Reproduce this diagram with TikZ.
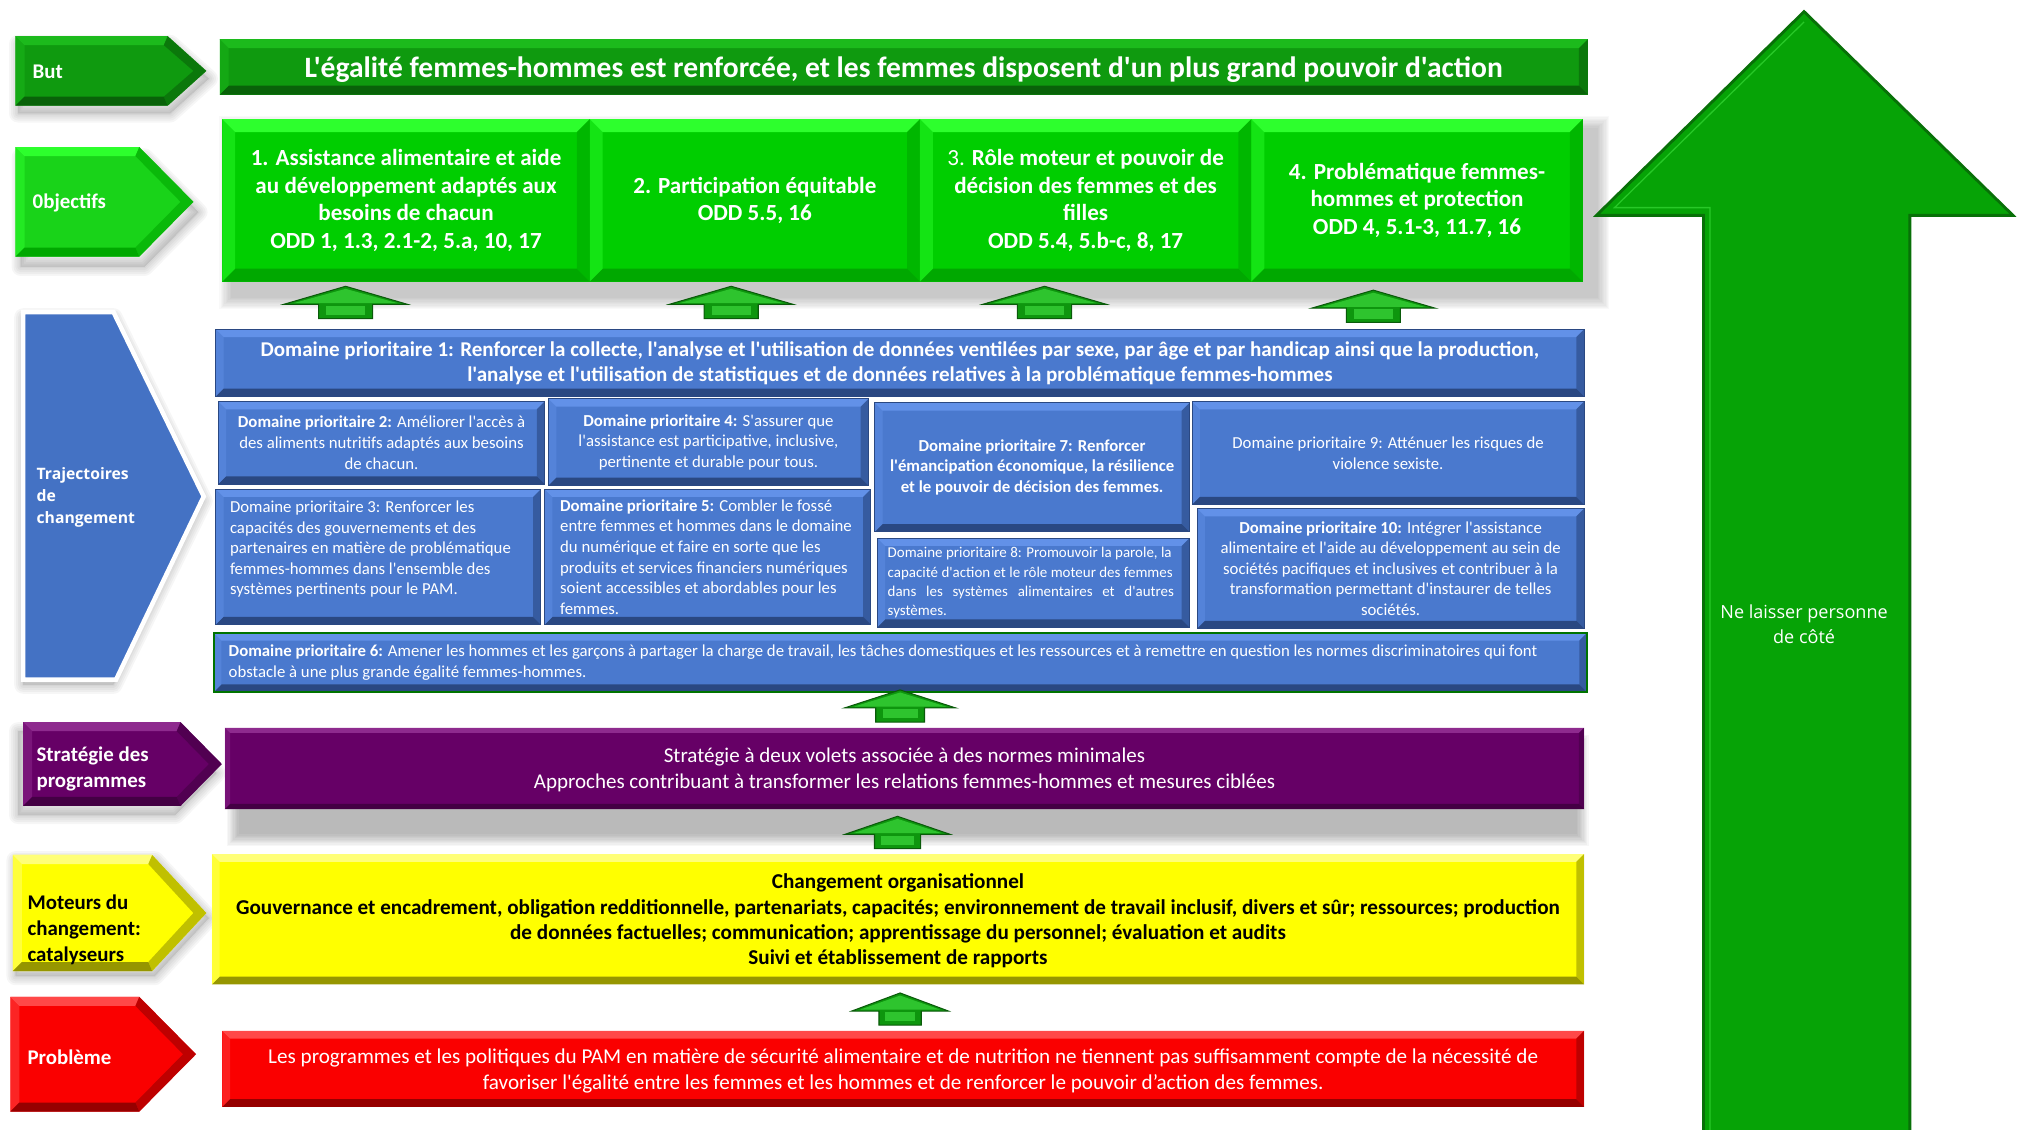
\documentclass[tikz,border=0pt]{standalone}
\usepackage{fontspec}
\setmainfont{Carlito}[Ligatures=TeXOff]
\newfontfamily\segoe{Open Sans}
\usetikzlibrary{calc}

\definecolor{goalmain}{RGB}{15,154,15}
\definecolor{goallt}{RGB}{28,186,28}
\definecolor{goaldk}{RGB}{9,98,9}
\definecolor{objmain}{RGB}{0,206,0}
\definecolor{objlt}{RGB}{45,255,45}
\definecolor{objdk}{RGB}{0,168,0}
\definecolor{domblue}{RGB}{74,121,206}
\definecolor{domlt}{RGB}{98,145,232}
\definecolor{domdk}{RGB}{42,72,130}
\definecolor{trajblue}{RGB}{68,114,196}
\definecolor{stratpurple}{RGB}{102,0,102}
\definecolor{stratlt}{RGB}{142,42,142}
\definecolor{stratdk}{RGB}{68,0,68}
\definecolor{catyellow}{RGB}{255,255,0}
\definecolor{catlt}{RGB}{255,255,120}
\definecolor{catdk}{RGB}{150,150,0}
\definecolor{probred}{RGB}{250,0,0}
\definecolor{problt}{RGB}{255,72,72}
\definecolor{probdk}{RGB}{150,0,0}
\definecolor{arrowgreen}{RGB}{14,150,14}
\definecolor{arrowlight}{RGB}{46,196,46}
\definecolor{arrowdark}{RGB}{10,90,10}
\definecolor{sidegreen}{RGB}{6,163,6}
\definecolor{sideedge}{RGB}{8,112,8}
\definecolor{sidelt}{RGB}{40,200,40}

\tikzset{every picture/.style={line width=0.75pt}}
\tikzset{
  blk/.style={rectangle, inner sep=0pt, text=white, align=center, anchor=north west},
  lefttext/.style={anchor=west, inner sep=0pt, text=white, align=left},
  bevel/.style n args={3}{path picture={
    \fill[#1] (path picture bounding box.north west) -- (path picture bounding box.north east)
      -- ($(path picture bounding box.north east)+(-#3,-#3)$) -- ($(path picture bounding box.north west)+(#3,-#3)$) -- cycle;
    \fill[#2] (path picture bounding box.south west) -- (path picture bounding box.south east)
      -- ($(path picture bounding box.south east)+(-#3,#3)$) -- ($(path picture bounding box.south west)+(#3,#3)$) -- cycle;
    \fill[#1, opacity=0.45] (path picture bounding box.north west) -- ($(path picture bounding box.north west)+(#3,-#3)$)
      -- ($(path picture bounding box.south west)+(#3,#3)$) -- (path picture bounding box.south west) -- cycle;
    \fill[#2, opacity=0.6] (path picture bounding box.north east) -- ($(path picture bounding box.north east)+(-#3,-#3)$)
      -- ($(path picture bounding box.south east)+(-#3,#3)$) -- (path picture bounding box.south east) -- cycle;
  }},
  upmark/.pic={
    \draw[fill=arrowgreen, draw=arrowdark, line width=0.8pt] (-21,0) -- (-21,11) -- (-48,11) -- (0,25) -- (48,11) -- (21,11) -- (21,0) -- cycle;
    \fill[arrowlight] (-40,12) -- (0,23) -- (40,12) -- cycle;
    \fill[arrowlight] (-15,3) rectangle (15,10);
  },
}

% chevron: x1, ytop, xnotch, xtip, ybot, main, light, dark
\newcommand{\chevron}[8]{%
  \pgfmathsetmacro\ymid{(#2+#5)/2}
  \fill[#6] (#1,#2) -- (#3,#2) -- (#4,\ymid) -- (#3,#5) -- (#1,#5) -- cycle;
  \fill[#7] (#1,#2) -- (#3,#2) -- (#3-3,#2+7) -- (#1+7,#2+7) -- cycle;
  \fill[#7,opacity=.5] (#1,#2) -- (#1+7,#2+7) -- (#1+7,#5-7) -- (#1,#5) -- cycle;
  \fill[#8] (#1,#5) -- (#3,#5) -- (#3-3,#5-7) -- (#1+7,#5-7) -- cycle;
  \fill[#8,opacity=.6] (#3,#2) -- (#4,\ymid) -- (#3,#5) -- (#3-3,#5-7) -- (#4-10,\ymid) -- (#3-3,#2+7) -- cycle;
}
% soft shadow of a chevron: x1, ytop, xnotch, xtip, ybot, dx, dy
\newcommand{\chevshade}[7]{%
  \pgfmathsetmacro\ymid{(#2+#5)/2}
  \foreach \w in {2,5,8,11,14} {
    \draw[black, opacity=0.035, line width=\w pt, line join=round, fill=black, fill opacity=0.02]
      (#1+#6,#2+#7) -- (#3+#6,#2+#7) -- (#4+#6,\ymid+#7) -- (#3+#6,#5+#7) -- (#1+#6,#5+#7) -- cycle;
  }
}

\newcommand{\flab}{\fontsize{16.2}{20}\selectfont\bfseries}
\newcommand{\fobj}{\fontsize{17.9}{21.5}\selectfont\bfseries}
\newcommand{\fdom}{\fontsize{13}{16}\selectfont}

\begin{document}
\begin{tikzpicture}[x=1pt,y=1pt,yscale=-1,xscale=1]
\path[use as bounding box] (0,0) rectangle (1568,876);

%Shadows
\foreach \i in {1,...,10} {
  \fill[black, opacity=0.025] (180-\i,100-\i) rectangle (1238+\i,230+\i);
  \fill[black, opacity=0.03] (186-\i,580-\i) rectangle (1222+\i,646+\i);
}
\chevshade{12}{28}{130}{160}{82}{2}{6}
\chevshade{12}{114}{108}{150}{199}{4}{8}
\chevshade{18}{560}{140}{172}{625}{-4}{7}
\chevshade{10}{663}{118}{160}{753}{2}{4}
\chevshade{18}{242}{88}{158}{527}{0}{4}

%Big side arrow
\draw[fill=sidegreen, draw=sideedge, line width=2.2pt] (1321,880) -- (1321,167) -- (1238,167) -- (1399,9) -- (1561,167) -- (1481,167) -- (1481,880);
\draw[sidelt, line width=1pt] (1326,880) -- (1326,161) -- (1252,161) -- (1399,17);
\draw (1399,484) node [text=white, align=center, font={\segoe\fontsize{14}{19.5}\selectfont}] (side) {Ne laisser personne\\de côté};

%Left chevrons
\chevron{12}{28}{130}{160}{82}{goalmain}{goallt}{goaldk}
\chevron{12}{114}{108}{150}{199}{objmain!90!white}{objlt}{objdk}
\chevron{18}{560}{140}{172}{625}{stratpurple}{stratlt}{stratdk}
\chevron{10}{663}{118}{160}{753}{catyellow}{catlt}{catdk}
\chevron{8}{773}{108}{152}{862}{probred}{problt}{probdk}
\draw[fill=trajblue, draw=white, line width=3.5pt] (18,242) -- (88,242) -- (158,385) -- (90,527) -- (18,527) -- cycle;

% Text Node
\draw (25,56) node [lefttext, font=\flab] (lbut) {But};
\draw (25,157) node [lefttext, font=\flab] (lobj) {0bjectifs};
\draw (28,386) node [lefttext, font={\segoe\fontsize{12.2}{17}\selectfont\bfseries}] (ltraj) {Trajectoires\\de\\changement};
\draw (28,596) node [lefttext, font=\flab] (lstrat) {Stratégie des\\programmes};
\draw (21,721) node [lefttext, text=black, font=\flab] (lcat) {Moteurs du\\changement:\\catalyseurs};
\draw (21,820) node [lefttext, font=\flab] (lprob) {Problème};

%Goal
\node [blk, fill=goalmain, bevel={goallt}{goaldk}{7}, minimum width=1061, minimum height=43, text depth=0pt, font=\fontsize{22.9}{26}\selectfont\bfseries] (goal) at (170,30) {L'égalité femmes-hommes est renforcée, et les femmes disposent d'un plus grand pouvoir d'action};

%Objectives
\node [blk, fill=objmain, bevel={objlt}{objdk}{10}, minimum width=285, minimum height=126, font=\fobj] (obja) at (172,92) {1. Assistance alimentaire et aide\\au développement adaptés aux\\besoins de chacun\\ODD 1, 1.3, 2.1-2, 5.a, 10, 17};
\node [blk, fill=objmain, bevel={objlt}{objdk}{10}, minimum width=256, minimum height=126, font=\fobj] (objb) at (457,92) {2. Participation équitable\\ODD 5.5, 16};
\node [blk, fill=objmain, bevel={objlt}{objdk}{10}, minimum width=257, minimum height=126, font=\fobj] (objc) at (713,92) {{\mdseries 3.} Rôle moteur et pouvoir de\\décision des femmes et des\\filles\\ODD 5.4, 5.b-c, 8, 17};
\node [blk, fill=objmain, bevel={objlt}{objdk}{10}, minimum width=257, minimum height=126, font=\fobj] (objd) at (970,92) {4. Problématique femmes-\\hommes et protection\\ODD 4, 5.1-3, 11.7, 16};

%Priority areas
\node [blk, fill=domblue, draw=domdk, bevel={domlt}{domdk}{6}, minimum width=1061, minimum height=52, font=\fontsize{16.3}{19.5}\selectfont\bfseries] (dom1) at (167,255) {Domaine prioritaire 1: Renforcer la collecte, l'analyse et l'utilisation de données ventilées par sexe, par âge et par handicap ainsi que la production,\\l'analyse et l'utilisation de statistiques et de données relatives à la problématique femmes-hommes};
\node [blk, fill=domblue, draw=domdk, bevel={domlt}{domdk}{6}, minimum width=253, minimum height=64, font=\fdom] (dom2) at (169,311) {\textbf{Domaine prioritaire 2:} Améliorer l'accès à\\des aliments nutritifs adaptés aux besoins\\de chacun.};
\node [blk, fill=domblue, draw=domdk, bevel={domlt}{domdk}{6}, minimum width=248, minimum height=67, font=\fdom] (dom4) at (425,309) {\textbf{Domaine prioritaire 4:} S'assurer que\\l'assistance est participative, inclusive,\\pertinente et durable pour tous.};
\node [blk, fill=domblue, draw=domdk, bevel={domlt}{domdk}{6}, minimum width=244, minimum height=100, font=\fdom\bfseries] (dom7) at (678,312) {Domaine prioritaire 7: Renforcer\\l'émancipation économique, la résilience\\et le pouvoir de décision des femmes.};
\node [blk, fill=domblue, draw=domdk, bevel={domlt}{domdk}{6}, minimum width=304, minimum height=80, font=\fdom] (dom9) at (924,311) {Domaine prioritaire 9: Atténuer les risques de\\violence sexiste.};
\node [blk, fill=domblue, draw=domdk, bevel={domlt}{domdk}{6}, minimum width=252, minimum height=105] (dom3) at (167,379) {};
\node [blk, fill=domblue, draw=domdk, bevel={domlt}{domdk}{6}, minimum width=253, minimum height=105] (dom5) at (422,379) {};
\node [blk, fill=domblue, draw=domdk, bevel={domlt}{domdk}{6}, minimum width=242, minimum height=69] (dom8) at (680,417) {};
\node [blk, fill=domblue, draw=domdk, bevel={domlt}{domdk}{6}, minimum width=300, minimum height=93, font=\fdom] (dom10) at (928,394) {\textbf{Domaine prioritaire 10:} Intégrer l'assistance\\alimentaire et l'aide au développement au sein de\\sociétés pacifiques et inclusives et contribuer à la\\transformation permettant d'instaurer de telles\\sociétés.};
\node [blk, fill=domblue, draw=green!45!black, line width=1.5pt, bevel={domlt}{domdk}{6}, minimum width=1065, minimum height=46] (dom6) at (165,490) {};

% Text Node
\draw ($(dom3.west)+(11,-6)$) node [lefttext, font=\fdom] (dom3t) {Domaine prioritaire 3: Renforcer les\\capacités des gouvernements et des\\partenaires en matière de problématique\\femmes-hommes dans l'ensemble des\\systèmes pertinents pour le PAM.};
\draw ($(dom5.west)+(12,0)$) node [lefttext, font=\fdom] (dom5t) {\textbf{Domaine prioritaire 5:} Combler le fossé\\entre femmes et hommes dans le domaine\\du numérique et faire en sorte que les\\produits et services financiers numériques\\soient accessibles et abordables pour les\\femmes.};
\draw ($(dom8.west)+(8,0)$) node [lefttext, font=\fontsize{11.6}{15}\selectfont] (dom8t) {Domaine prioritaire 8: Promouvoir la parole, la\\capacité d'action et le rôle moteur des femmes\\\makebox[222pt][s]{dans les systèmes alimentaires et d'autres}\\systèmes.};
\draw ($(dom6.west)+(12,0)$) node [lefttext, font=\fdom] (dom6t) {\textbf{Domaine prioritaire 6:} Amener les hommes et les garçons à partager la charge de travail, les tâches domestiques et les ressources et à remettre en question les normes discriminatoires qui font\\obstacle à une plus grande égalité femmes-hommes.};

%Programme strategy
\node [blk, fill=stratpurple, bevel={stratlt}{stratdk}{4}, minimum width=1054, minimum height=63, text depth=0pt, font=\fontsize{16.3}{20}\selectfont] (strat) at (174,564) {Stratégie à deux volets associée à des normes minimales\\Approches contribuant à transformer les relations femmes-hommes et mesures ciblées};

%Enablers
\node [blk, fill=catyellow, bevel={catlt}{catdk}{6}, text=black, minimum width=1064, minimum height=101, text depth=0pt, font=\fontsize{16.4}{19.7}\selectfont\bfseries] (cat) at (164,662) {Changement organisationnel\\Gouvernance et encadrement, obligation redditionnelle, partenariats, capacités; environnement de travail inclusif, divers et sûr; ressources; production\\de données factuelles; communication; apprentissage du personnel; évaluation et audits\\Suivi et établissement de rapports};

%Problem
\node [blk, fill=probred, bevel={problt}{probdk}{6}, minimum width=1056, minimum height=59, text depth=0pt, font=\fontsize{16.4}{20}\selectfont] (prob) at (172,799) {Les programmes et les politiques du PAM en matière de sécurité alimentaire et de nutrition ne tiennent pas suffisamment compte de la nécessité de\\favoriser l'égalité entre les femmes et les hommes et de renforcer le pouvoir d’action des femmes.};

%Small up arrows
\path (268,247) pic {upmark};
\path (567,247) pic {upmark};
\path (810,247) pic {upmark};
\path (1065,250) pic {upmark};
\path (698,560) pic[xscale=0.9] {upmark};
\path (696,658) pic[xscale=0.85] {upmark};
\path (698,795) pic[xscale=0.78] {upmark};

\end{tikzpicture}
\end{document}
